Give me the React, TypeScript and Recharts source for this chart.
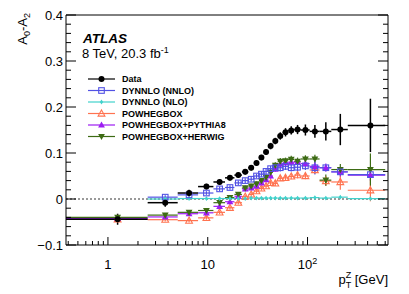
import {
  ComposedChart, Scatter, XAxis, YAxis, ErrorBar, ReferenceLine, Legend,
} from 'recharts'

const FONT = '"Liberation Sans", Arial, Helvetica, sans-serif'

// pT bins (first edge clipped to the left end of the axis)
const BIN_LOW = [0.38, 2.5, 5.0, 8.0, 11.4, 14.9, 18.5, 22.0, 25.5, 29.0, 32.6, 36.4, 40.4, 44.9, 50.2, 56.4, 63.9, 73.4, 85.4, 105.0, 132.0, 173.0, 253.0]
const BIN_HIGH = [2.5, 5.0, 8.0, 11.4, 14.9, 18.5, 22.0, 25.5, 29.0, 32.6, 36.4, 40.4, 44.9, 50.2, 56.4, 63.9, 73.4, 85.4, 105.0, 132.0, 173.0, 253.0, 600.0]
const BIN_CENTER = [1.25, 3.75, 6.5, 9.7, 13.15, 16.7, 20.25, 23.75, 27.25, 30.8, 34.5, 38.4, 42.65, 47.55, 53.3, 60.15, 68.65, 79.4, 95.2, 118.5, 152.5, 213, 426.5]

const DATA_VALUES = [-0.044, -0.008, 0.013, 0.027, 0.037, 0.046, 0.052, 0.059, 0.068, 0.078, 0.090, 0.102, 0.115, 0.126, 0.137, 0.145, 0.149, 0.151, 0.150, 0.147, 0.147, 0.151, 0.160]
const DATA_ERRORS = [0.012, 0.009, 0.007, 0.006, 0.006, 0.006, 0.006, 0.006, 0.006, 0.006, 0.006, 0.006, 0.007, 0.007, 0.008, 0.009, 0.009, 0.010, 0.012, 0.014, 0.020, 0.034, 0.058]

const NNLO_VALUES = [null, 0.004, 0.009, 0.013, 0.022, 0.025, 0.035, 0.040, 0.043, 0.050, 0.054, 0.060, 0.066, 0.068, 0.068, 0.071, 0.068, 0.069, 0.072, 0.068, 0.068, 0.059, 0.053]
const NNLO_ERRORS = [null, 0.004, 0.004, 0.004, 0.005, 0.005, 0.005, 0.005, 0.005, 0.005, 0.006, 0.006, 0.006, 0.007, 0.008, 0.008, 0.008, 0.009, 0.009, 0.015, 0.006, 0.005, 0.005]

const NLO_VALUES = [null, 0.000, 0.001, 0.001, 0.001, 0.001, 0.001, 0.001, 0.002, 0.002, 0.002, 0.002, 0.002, 0.002, 0.002, 0.002, 0.002, 0.002, 0.002, 0.003, 0.002, 0.004, 0.001]
const NLO_ERRORS = [null, 0.001, 0.001, 0.001, 0.001, 0.001, 0.001, 0.001, 0.001, 0.001, 0.001, 0.001, 0.001, 0.001, 0.001, 0.001, 0.001, 0.001, 0.001, 0.001, 0.001, 0.001, 0.001]

const POWHEG_VALUES = [-0.044, -0.045, -0.047, -0.041, -0.029, -0.019, -0.008, 0.005, 0.010, 0.017, 0.023, 0.028, 0.035, 0.034, 0.045, 0.046, 0.049, 0.052, 0.050, 0.063, 0.039, 0.037, 0.019]
const POWHEG_ERRORS = [0.003, 0.004, 0.004, 0.004, 0.004, 0.004, 0.004, 0.004, 0.005, 0.005, 0.005, 0.005, 0.005, 0.006, 0.006, 0.006, 0.006, 0.007, 0.007, 0.008, 0.010, 0.017, 0.024]

const PYTHIA_VALUES = [-0.042, -0.039, -0.032, -0.030, -0.016, -0.006, 0.006, 0.022, 0.024, 0.028, 0.035, 0.042, 0.050, 0.065, 0.076, 0.079, 0.080, 0.080, 0.077, 0.071, 0.068, 0.059, 0.052]
const PYTHIA_ERRORS = [0.003, 0.004, 0.004, 0.004, 0.004, 0.004, 0.004, 0.005, 0.005, 0.005, 0.005, 0.005, 0.006, 0.006, 0.006, 0.006, 0.007, 0.007, 0.007, 0.008, 0.009, 0.010, 0.012]

const HERWIG_VALUES = [-0.040, -0.035, -0.029, -0.025, -0.008, 0.003, 0.010, 0.024, 0.028, 0.033, 0.040, 0.047, 0.058, 0.073, 0.082, 0.083, 0.086, 0.082, 0.087, 0.087, 0.041, 0.064, 0.064]
const HERWIG_ERRORS = [0.003, 0.004, 0.004, 0.004, 0.004, 0.005, 0.005, 0.005, 0.005, 0.005, 0.005, 0.006, 0.006, 0.007, 0.007, 0.007, 0.008, 0.008, 0.008, 0.009, 0.012, 0.012, 0.035]

// axis ticks
const X_TICKS = [0.4, 0.5, 0.6, 0.7, 0.8, 0.9, 1, 2, 3, 4, 5, 6, 7, 8, 9, 10, 20, 30, 40, 50, 60, 70, 80, 90, 100, 200, 300, 400, 500, 600]
const X_MAJOR = [1, 10, 100]
const Y_TICKS = [-0.1, -0.08, -0.06, -0.04, -0.02, 0, 0.02, 0.04, 0.06, 0.08, 0.1, 0.12, 0.14, 0.16, 0.18, 0.2, 0.22, 0.24, 0.26, 0.28, 0.3, 0.32, 0.34, 0.36, 0.38, 0.4]
const X_DOMAIN = [0.38, 640]
const Y_DOMAIN = [-0.1, 0.4]

type Pt = { x: number; y: number; ex: number[]; ey: number }

function buildPoints(values: (number | null)[], errors: (number | null)[]): Pt[] {
  const pts: Pt[] = []
  BIN_CENTER.forEach((x, i) => {
    const v = values[i]
    if (v == null) return
    pts.push({ x, y: v, ex: [x - BIN_LOW[i], BIN_HIGH[i] - x], ey: errors[i] ?? 0 })
  })
  return pts
}

type Marker = 'circle' | 'openSquare' | 'diamond' | 'openTriangle' | 'triangle' | 'downTriangle'

function MarkerGlyph({ kind, cx, cy, color }: { kind: Marker; cx: number; cy: number; color: string }) {
  switch (kind) {
    case 'circle':
      return <circle cx={cx} cy={cy} r={3} fill={color} />
    case 'openSquare':
      return <rect x={cx - 2.8} y={cy - 2.8} width={5.6} height={5.6} fill="none" stroke={color} strokeWidth={1.1} />
    case 'diamond':
      return <path d={`M${cx},${cy - 2.4}L${cx + 1.7},${cy}L${cx},${cy + 2.4}L${cx - 1.7},${cy}Z`} fill={color} />
    case 'openTriangle':
      return <path d={`M${cx},${cy - 3.6}L${cx + 3.4},${cy + 2.6}L${cx - 3.4},${cy + 2.6}Z`} fill="none" stroke={color} strokeWidth={1.1} />
    case 'triangle':
      return <path d={`M${cx},${cy - 3.6}L${cx + 3.4},${cy + 2.6}L${cx - 3.4},${cy + 2.6}Z`} fill={color} />
    default:
      return <path d={`M${cx},${cy + 3.6}L${cx + 3.4},${cy - 2.6}L${cx - 3.4},${cy - 2.6}Z`} fill={color} />
  }
}

const SERIES = [
  { name: 'POWHEGBOX', color: '#ff7350', marker: 'openTriangle' as Marker, data: buildPoints(POWHEG_VALUES, POWHEG_ERRORS) },
  { name: 'POWHEGBOX+PYTHIA8', color: '#9c1cf2', marker: 'triangle' as Marker, data: buildPoints(PYTHIA_VALUES, PYTHIA_ERRORS) },
  { name: 'POWHEGBOX+HERWIG', color: '#3d6b14', marker: 'downTriangle' as Marker, data: buildPoints(HERWIG_VALUES, HERWIG_ERRORS) },
  { name: 'DYNNLO (NLO)', color: '#40d2cc', marker: 'diamond' as Marker, data: buildPoints(NLO_VALUES, NLO_ERRORS) },
  { name: 'DYNNLO (NNLO)', color: '#5252e4', marker: 'openSquare' as Marker, data: buildPoints(NNLO_VALUES, NNLO_ERRORS) },
  { name: 'Data', color: '#000000', marker: 'circle' as Marker, data: buildPoints(DATA_VALUES, DATA_ERRORS) },
]

const LEGEND_ORDER = ['Data', 'DYNNLO (NNLO)', 'DYNNLO (NLO)', 'POWHEGBOX', 'POWHEGBOX+PYTHIA8', 'POWHEGBOX+HERWIG']

const isMajorY = (v: number) => Math.round(v * 100) % 10 === 0
const yLabel = (v: number) => (Math.abs(v) < 1e-9 ? '0' : v < 0 ? `\u2212${Math.abs(v).toFixed(1)}` : v.toFixed(1))

function LeftTick({ x, y, payload }: any) {
  const major = isMajorY(payload.value)
  return (
    <g>
      <line x1={x} x2={x + (major ? 10 : 5)} y1={y} y2={y} stroke="#000" strokeWidth={1} />
      {major && (
        <text x={x - 3} y={y + 4.5} textAnchor="end" fontSize={13} fontFamily={FONT} fill="#000">
          {yLabel(payload.value)}
        </text>
      )}
    </g>
  )
}

function RightTick({ x, y, payload }: any) {
  const major = isMajorY(payload.value)
  return <line x1={x} x2={x - (major ? 10 : 5)} y1={y} y2={y} stroke="#000" strokeWidth={1} />
}

function BottomTick({ x, y, payload }: any) {
  const v = payload.value
  const major = X_MAJOR.includes(v)
  return (
    <g>
      <line x1={x} x2={x} y1={y} y2={y - (major ? 8 : 4)} stroke="#000" strokeWidth={1} />
      {major && (
        <text x={x} y={y + 24} textAnchor="middle" fontSize={13} fontFamily={FONT} fill="#000">
          {v === 100 ? (
            <>
              10<tspan dy={-5} fontSize={9}>2</tspan>
            </>
          ) : (
            String(v)
          )}
        </text>
      )}
    </g>
  )
}

function TopTick({ x, y, payload }: any) {
  const major = X_MAJOR.includes(payload.value)
  return <line x1={x} x2={x} y1={y} y2={y + (major ? 8 : 4)} stroke="#000" strokeWidth={1} />
}

function Overlay() {
  const rows = LEGEND_ORDER.map(n => SERIES.find(s => s.name === n)!)
  return (
    <svg width={409} height={294} style={{ position: 'absolute', left: 0, top: 0, pointerEvents: 'none' }}>
      <text x={83} y={43} fontSize={13.5} fontWeight="bold" fontStyle="italic" fontFamily={FONT} fill="#000">ATLAS</text>
      <text x={82} y={58} fontSize={13} fontFamily={FONT} fill="#000">
        8 TeV, 20.3 fb<tspan dy={-5} fontSize={9}>-1</tspan>
      </text>
      {rows.map((s, i) => {
        const cy = 79 + i * 11.5
        return (
          <g key={s.name}>
            <line x1={88} x2={115} y1={cy} y2={cy} stroke={s.color} strokeWidth={1.2} />
            <MarkerGlyph kind={s.marker} cx={101.5} cy={cy} color={s.color} />
            <text x={122} y={cy + 3.3} fontSize={9} fontWeight="bold" fontFamily={FONT} fill="#000">{s.name}</text>
          </g>
        )
      })}
      <text x={27} y={13} transform="rotate(-90 27 13)" textAnchor="end" fontSize={13} fontFamily={FONT} fill="#000">
        A<tspan dy={3} fontSize={9}>0</tspan><tspan dy={-3}>-A</tspan><tspan dy={3} fontSize={9}>2</tspan>
      </text>
      <text x={388} y={284} textAnchor="end" fontSize={13} fontFamily={FONT} fill="#000">
        p<tspan dy={4} fontSize={9}>T</tspan><tspan dx={-5.5} dy={-10} fontSize={9}>Z</tspan><tspan dy={6}> [GeV]</tspan>
      </text>
    </svg>
  )
}

export default function App() {
  return (
    <div style={{ position: 'absolute', left: 0, top: 0, width: 409, height: 294, background: '#fff', fontFamily: FONT }}>
      <ComposedChart width={409} height={294} margin={{ top: 0, right: 0, bottom: 0, left: 0 }}>
        <XAxis
          dataKey="x" type="number" scale="log" domain={X_DOMAIN} allowDataOverflow
          ticks={X_TICKS} interval={0} height={49} tickSize={0} tickMargin={0} tickLine={false}
          axisLine={{ stroke: '#000', strokeWidth: 1 }} tick={<BottomTick />}
        />
        <XAxis
          xAxisId="top" orientation="top" type="number" scale="log" domain={X_DOMAIN} allowDataOverflow
          ticks={X_TICKS} interval={0} height={15} tickSize={0} tickMargin={0} tickLine={false}
          axisLine={{ stroke: '#000', strokeWidth: 1 }} tick={<TopTick />}
        />
        <YAxis
          dataKey="y" type="number" domain={Y_DOMAIN} allowDataOverflow
          ticks={Y_TICKS} interval={0} width={66} tickSize={0} tickMargin={0} tickLine={false}
          axisLine={{ stroke: '#000', strokeWidth: 1 }} tick={<LeftTick />}
        />
        <YAxis
          yAxisId="right" orientation="right" type="number" domain={Y_DOMAIN} allowDataOverflow
          ticks={Y_TICKS} interval={0} width={21} tickSize={0} tickMargin={0} tickLine={false}
          axisLine={{ stroke: '#000', strokeWidth: 1 }} tick={<RightTick />}
        />
        <ReferenceLine y={0} stroke="#000" strokeWidth={0.8} strokeDasharray="2 2" />
        {SERIES.map(s => (
          <Scatter
            key={s.name}
            name={s.name}
            data={s.data}
            isAnimationActive={false}
            shape={(p: any) => <MarkerGlyph kind={s.marker} cx={p.cx} cy={p.cy} color={s.color} />}
          >
            <ErrorBar direction="x" dataKey="ex" width={0} stroke={s.color} strokeWidth={s.name === 'Data' ? 1.5 : 1.2} isAnimationActive={false} />
            <ErrorBar direction="y" dataKey="ey" width={0} stroke={s.color} strokeWidth={s.name === 'Data' ? 1.5 : 1.2} isAnimationActive={false} />
          </Scatter>
        ))}
        <Legend
          layout="horizontal" verticalAlign="middle" align="center"
          wrapperStyle={{ left: 0, top: 0, width: 409, height: 294, pointerEvents: 'none' }}
          content={() => <Overlay />}
        />
      </ComposedChart>
    </div>
  )
}
